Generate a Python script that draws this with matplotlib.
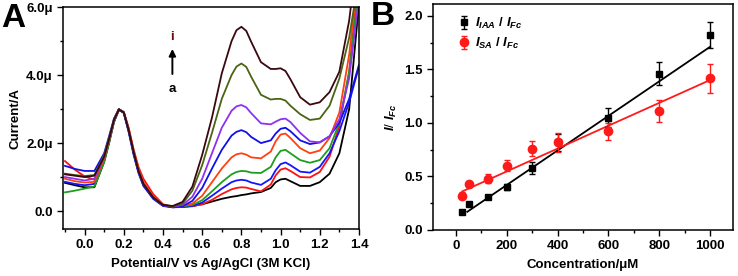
import matplotlib
matplotlib.use('Agg')
import matplotlib.pyplot as plt
import numpy as np
from matplotlib.ticker import MultipleLocator

plt.rcParams['font.family'] = 'Liberation Sans'
plt.rcParams['font.weight'] = 'bold'
plt.rcParams['mathtext.fontset'] = 'custom'
plt.rcParams['mathtext.it'] = 'Liberation Sans:italic:bold'
plt.rcParams['mathtext.rm'] = 'Liberation Sans:bold'

FS = 9.5

################# DATA A: DPV curves ####################

pot = [-0.10, -0.05, 0.00, 0.05, 0.10, 0.125, 0.15, 0.175, 0.20, 0.225, 0.25, 0.275,
       0.30, 0.35, 0.40, 0.45, 0.50, 0.55, 0.60, 0.65, 0.70, 0.75, 0.775, 0.80,
       0.825, 0.85, 0.90, 0.95, 0.975, 1.00, 1.025, 1.05, 1.10, 1.15, 1.20, 1.25,
       1.30, 1.35, 1.40]

cur_a = [0.83, 0.76, 0.70, 0.70, 1.45, 2.00, 2.62, 2.97, 2.90, 2.38, 1.72, 1.18,
         0.80, 0.40, 0.17, 0.12, 0.13, 0.15, 0.20, 0.28, 0.36, 0.42, 0.44, 0.47,
         0.49, 0.52, 0.56, 0.68, 0.85, 0.93, 0.95, 0.88, 0.74, 0.74, 0.85, 1.10,
         1.70, 3.00, 6.10]
cur_b = [1.47, 1.22, 1.02, 0.92, 1.55, 2.08, 2.66, 2.99, 2.92, 2.45, 1.82, 1.30,
         0.95, 0.50, 0.20, 0.12, 0.13, 0.14, 0.20, 0.33, 0.50, 0.64, 0.68, 0.70,
         0.69, 0.65, 0.58, 0.78, 1.05, 1.22, 1.26, 1.18, 1.00, 0.99, 1.15, 1.60,
         2.50, 4.10, 7.00]
cur_c = [0.86, 0.80, 0.76, 0.80, 1.50, 2.05, 2.64, 2.98, 2.90, 2.36, 1.70, 1.15,
         0.76, 0.38, 0.16, 0.11, 0.12, 0.15, 0.25, 0.45, 0.66, 0.85, 0.90, 0.92,
         0.90, 0.84, 0.77, 0.95, 1.20, 1.38, 1.43, 1.35, 1.16, 1.13, 1.30, 1.70,
         2.35, 3.20, 4.25]
cur_d = [0.55, 0.60, 0.66, 0.72, 1.45, 2.02, 2.63, 2.98, 2.90, 2.38, 1.74, 1.18,
         0.80, 0.40, 0.17, 0.12, 0.14, 0.18, 0.32, 0.58, 0.85, 1.08, 1.15, 1.18,
         1.17, 1.13, 1.12, 1.30, 1.58, 1.77, 1.80, 1.70, 1.50, 1.42, 1.50, 1.85,
         2.60, 4.10, 6.60]
cur_e = [0.95, 0.88, 0.84, 0.86, 1.55, 2.08, 2.66, 2.99, 2.91, 2.42, 1.78, 1.24,
         0.85, 0.43, 0.18, 0.12, 0.15, 0.22, 0.45, 0.85, 1.25, 1.58, 1.67, 1.70,
         1.66, 1.58, 1.55, 1.75, 2.05, 2.25, 2.28, 2.15, 1.85, 1.70, 1.78, 2.15,
         2.90, 4.60, 7.20]
cur_f = [1.33, 1.24, 1.18, 1.18, 1.70, 2.20, 2.72, 3.00, 2.88, 2.32, 1.66, 1.12,
         0.74, 0.36, 0.15, 0.11, 0.14, 0.30, 0.68, 1.25, 1.80, 2.22, 2.33, 2.38,
         2.32, 2.18, 2.00, 2.08, 2.28, 2.42, 2.45, 2.35, 2.08, 1.97, 2.02, 2.20,
         2.60, 3.30, 4.30]
cur_g = [1.00, 0.95, 0.90, 0.95, 1.60, 2.12, 2.68, 2.99, 2.90, 2.38, 1.74, 1.18,
         0.80, 0.40, 0.17, 0.13, 0.18, 0.42, 0.95, 1.70, 2.45, 2.95, 3.08, 3.12,
         3.05, 2.88, 2.58, 2.55, 2.63, 2.70, 2.72, 2.62, 2.30, 2.05, 2.02, 2.20,
         2.70, 3.90, 6.30]
cur_h = [1.10, 1.06, 1.03, 1.06, 1.65, 2.15, 2.70, 3.00, 2.90, 2.38, 1.74, 1.18,
         0.80, 0.40, 0.18, 0.14, 0.22, 0.60, 1.35, 2.30, 3.30, 4.00, 4.25, 4.34,
         4.24, 3.95, 3.42, 3.28, 3.30, 3.30, 3.25, 3.10, 2.85, 2.68, 2.72, 3.10,
         3.90, 5.10, 6.90]
cur_i = [1.08, 1.04, 1.00, 1.04, 1.60, 2.12, 2.68, 2.99, 2.90, 2.38, 1.74, 1.18,
         0.80, 0.40, 0.18, 0.15, 0.27, 0.72, 1.65, 2.75, 4.05, 5.00, 5.32, 5.42,
         5.30, 4.98, 4.38, 4.18, 4.18, 4.20, 4.12, 3.88, 3.35, 3.13, 3.20, 3.50,
         4.10, 5.60, 8.00]

curves = [cur_a, cur_b, cur_c, cur_d, cur_e, cur_f, cur_g, cur_h, cur_i]
colors = ['#000000', '#ff1010', '#1414ff', '#1e9e1e', '#ff4010', '#1010e8',
          '#9030f0', '#4a6414', '#3a0810']

################# DATA B: calibration ####################

conc = [25, 50, 125, 200, 300, 400, 600, 800, 1000]
iaa = [0.17, 0.24, 0.31, 0.40, 0.575, 0.82, 1.05, 1.46, 1.82]
iaa_err = [0.02, 0.02, 0.02, 0.03, 0.055, 0.08, 0.09, 0.11, 0.12]
sa = [0.32, 0.43, 0.48, 0.60, 0.76, 0.82, 0.92, 1.11, 1.415]
sa_err = [0.03, 0.03, 0.045, 0.05, 0.07, 0.09, 0.08, 0.10, 0.135]
fit_iaa_x = [45, 1000]
fit_iaa_y = [0.17, 1.71]
fit_sa_x = [25, 1000]
fit_sa_y = [0.36, 1.40]

fig = plt.figure(figsize=(7.38, 2.76), dpi=100)
ax1 = fig.add_axes([0.0854, 0.170, 0.401, 0.8043])
ax2 = fig.add_axes([0.5867, 0.1667, 0.4065, 0.819])

################# PANEL A ####################

for c, col in zip(curves, colors):
    ax1.plot(pot, c, color=col, lw=1.3)

ax1.set_xlim(-0.11, 1.4)
ax1.set_ylim(-0.53, 6.0)
ax1.xaxis.set_major_locator(MultipleLocator(0.2))
ax1.xaxis.set_minor_locator(MultipleLocator(0.1))
ax1.set_yticks([0, 2, 4, 6])
ax1.set_yticklabels(['0.0', '2.0\u03bc', '4.0\u03bc', '6.0\u03bc'])
ax1.yaxis.set_minor_locator(MultipleLocator(1))
ax1.set_xlabel('Potential/V vs Ag/AgCl (3M KCl)', fontsize=FS, fontweight='bold', labelpad=5)
ax1.set_ylabel('Current/A', fontsize=FS, fontweight='bold', labelpad=3)

ax1.annotate('', xy=(0.448, 4.85), xytext=(0.448, 3.95),
             arrowprops=dict(arrowstyle='-|>', color='black', lw=1.4, mutation_scale=10))
ax1.text(0.448, 5.12, 'i', color='#6a0a14', fontsize=FS, fontweight='bold', ha='center', va='center')
ax1.text(0.448, 3.6, 'a', color='black', fontsize=FS, fontweight='bold', ha='center', va='center')

################# PANEL B ####################

ax2.errorbar(conc, iaa, yerr=iaa_err, fmt='s', color='black', ms=5, capsize=2.5,
             elinewidth=1, capthick=1, label='$I_{IAA}$ / $I_{Fc}$', zorder=3)
ax2.errorbar(conc, sa, yerr=sa_err, fmt='o', color='#ff1a1a', ms=6, capsize=2.5,
             elinewidth=1, capthick=1, label='$I_{SA}$ / $I_{Fc}$', zorder=3)
ax2.plot(fit_iaa_x, fit_iaa_y, color='black', lw=1.3)
ax2.plot(fit_sa_x, fit_sa_y, color='#ff1a1a', lw=1.3)

ax2.set_xlim(-90, 1090)
ax2.set_ylim(0, 2.11)
ax2.xaxis.set_major_locator(MultipleLocator(200))
ax2.xaxis.set_minor_locator(MultipleLocator(100))
ax2.yaxis.set_major_locator(MultipleLocator(0.5))
ax2.yaxis.set_minor_locator(MultipleLocator(0.25))
ax2.set_xlabel('Concentration/\u03bcM', fontsize=FS, fontweight='bold', labelpad=5)
ax2.set_ylabel('$I$/ $I_{Fc}$', fontsize=FS, labelpad=4)

leg = ax2.legend(loc='upper left', bbox_to_anchor=(0.06, 0.97), frameon=False,
                 fontsize=FS, handletextpad=0.2, borderaxespad=0.0,
                 labelspacing=0.35, handlelength=1.2)

for ax in (ax1, ax2):
    ax.tick_params(which='both', direction='out', labelsize=FS, width=1)
    ax.tick_params(which='major', length=4)
    ax.tick_params(which='minor', length=2.5)
    for lab in ax.get_xticklabels() + ax.get_yticklabels():
        lab.set_fontweight('bold')
    for s in ax.spines.values():
        s.set_linewidth(1.1)

fig.text(0.002, 0.99, 'A', fontsize=24, fontweight='bold', va='top', ha='left')
fig.text(0.502, 0.995, 'B', fontsize=24, fontweight='bold', va='top', ha='left')

fig.savefig('out.png', dpi=100)
